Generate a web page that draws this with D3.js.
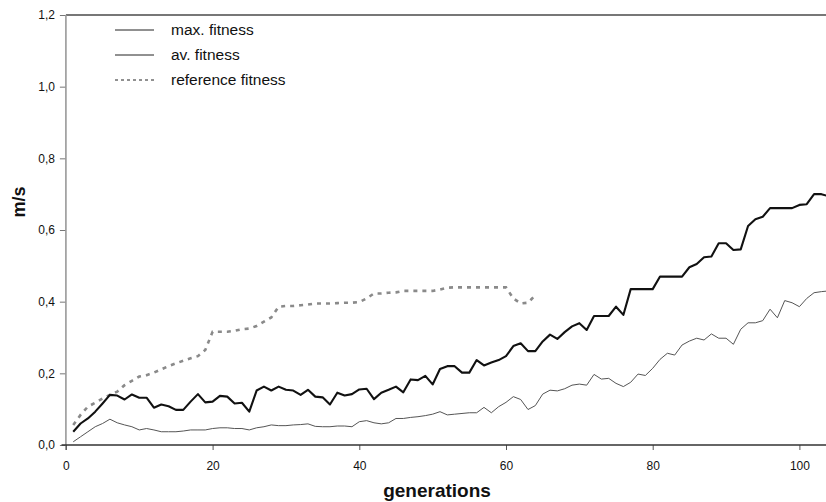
<!DOCTYPE html>
<html>
<head>
<meta charset="utf-8">
<script src="https://cdn.jsdelivr.net/npm/d3@7/dist/d3.min.js"></script>
<style>
  html, body { margin: 0; padding: 0; background: #fff; }
  svg { display: block; font-family: Arial, "Liberation Sans", sans-serif; }
</style>
</head>
<body>
<svg id="chart" width="826" height="502"></svg>
<script>
// ---- data ----
const generations = d3.range(1, 105);
const maxFitness = [
  0.037,0.060,0.074,0.093,0.116,0.140,0.138,0.127,0.141,0.132,
  0.132,0.104,0.113,0.108,0.098,0.098,0.121,0.142,0.119,0.121,
  0.137,0.135,0.116,0.118,0.093,0.152,0.163,0.152,0.163,0.154,
  0.152,0.140,0.154,0.135,0.133,0.113,0.146,0.138,0.142,0.155,
  0.157,0.128,0.146,0.154,0.163,0.147,0.183,0.181,0.193,0.169,
  0.212,0.220,0.220,0.202,0.202,0.237,0.222,0.230,0.237,0.248,
  0.276,0.284,0.262,0.262,0.289,0.308,0.296,0.315,0.331,0.340,
  0.321,0.360,0.360,0.360,0.386,0.363,0.435,0.435,0.435,0.435,
  0.470,0.470,0.470,0.470,0.496,0.505,0.524,0.526,0.563,0.563,
  0.544,0.546,0.611,0.630,0.637,0.661,0.661,0.661,0.661,0.670,
  0.672,0.700,0.700,0.694
];
const avFitness = [
  0.009,0.023,0.037,0.051,0.060,0.072,0.062,0.056,0.051,0.042,
  0.046,0.042,0.037,0.037,0.037,0.039,0.042,0.042,0.042,0.046,
  0.048,0.048,0.046,0.046,0.042,0.048,0.051,0.056,0.054,0.054,
  0.056,0.057,0.059,0.052,0.051,0.051,0.053,0.053,0.051,0.065,
  0.068,0.062,0.059,0.062,0.074,0.074,0.077,0.079,0.082,0.086,
  0.093,0.084,0.086,0.088,0.090,0.090,0.105,0.090,0.107,0.119,
  0.135,0.127,0.099,0.110,0.142,0.153,0.151,0.157,0.167,0.170,
  0.167,0.197,0.184,0.186,0.172,0.163,0.175,0.198,0.194,0.214,
  0.239,0.256,0.251,0.279,0.290,0.298,0.293,0.310,0.298,0.298,
  0.281,0.323,0.341,0.341,0.347,0.379,0.355,0.403,0.397,0.386,
  0.409,0.425,0.428,0.430
];
const refGenerations = d3.range(1, 65);
const refFitness = [
  0.056,0.084,0.107,0.118,0.130,0.140,0.149,0.167,0.179,0.191,
  0.195,0.202,0.211,0.220,0.228,0.235,0.242,0.248,0.265,0.316,
  0.316,0.316,0.319,0.323,0.325,0.332,0.344,0.356,0.386,0.388,
  0.388,0.390,0.392,0.395,0.395,0.395,0.396,0.397,0.397,0.399,
  0.409,0.423,0.423,0.425,0.426,0.430,0.430,0.430,0.430,0.430,
  0.434,0.439,0.440,0.440,0.440,0.440,0.440,0.440,0.440,0.440,
  0.409,0.395,0.397,0.418
];
const xTicks = [0, 20, 40, 60, 80, 100];
const yTicks = [0, 0.2, 0.4, 0.6, 0.8, 1.0, 1.2];
const yTickLabels = ["0,0", "0,2", "0,4", "0,6", "0,8", "1,0", "1,2"];
const legendLabels = ["max. fitness", "av. fitness", "reference fitness"];

// ---- layout ----
const svg = d3.select("#chart");
const x = d3.scaleLinear().domain([0, 104]).range([65.9, 65.9 + 7.335 * 104]);
const y = d3.scaleLinear().domain([0, 1.2]).range([445, 15]);

// top frame line
svg.append("line")
  .attr("x1", x(0)).attr("x2", 826)
  .attr("y1", y(1.2)).attr("y2", y(1.2))
  .attr("stroke", "#4a4a4a").attr("stroke-width", 1.5);

// y axis
const yAxis = svg.append("g").attr("transform", `translate(${x(0)},0)`)
  .call(d3.axisLeft(y).tickValues(yTicks).tickSize(6).tickPadding(5)
    .tickFormat((d, i) => yTickLabels[i]));
yAxis.select(".domain").remove();
yAxis.selectAll(".tick line").attr("stroke", "#777");
yAxis.selectAll("text").attr("font-size", 12).attr("fill", "#111")
  .attr("font-family", "Arial, 'Liberation Sans', sans-serif");
svg.append("line")
  .attr("x1", x(0)).attr("x2", x(0))
  .attr("y1", y(1.2)).attr("y2", 450)
  .attr("stroke", "#999").attr("stroke-width", 1.6);

// x axis
const xAxis = svg.append("g").attr("transform", `translate(0,${y(0)})`)
  .call(d3.axisBottom(x).tickValues(xTicks).tickSize(5).tickPadding(11)
    .tickFormat(d3.format("d")));
xAxis.select(".domain").remove();
xAxis.selectAll(".tick line").attr("stroke", "#555");
xAxis.selectAll("text").attr("font-size", 12).attr("fill", "#111")
  .attr("font-family", "Arial, 'Liberation Sans', sans-serif");
svg.append("line")
  .attr("x1", 61.5).attr("x2", 826)
  .attr("y1", y(0)).attr("y2", y(0))
  .attr("stroke", "#333").attr("stroke-width", 1.3);

// axis titles
svg.append("text")
  .attr("x", 437).attr("y", 497)
  .attr("text-anchor", "middle")
  .attr("font-size", 19).attr("font-weight", "bold").attr("fill", "#111")
  .text("generations");
svg.append("text")
  .attr("transform", "translate(25,202) rotate(-90)")
  .attr("text-anchor", "middle")
  .attr("font-size", 18).attr("font-weight", "bold").attr("fill", "#111")
  .text("m/s");

// lines
const lineGen = (xs, ys) => d3.line()
  .x((d, i) => x(xs[i]))
  .y(d => y(d))(ys);

svg.append("path")
  .attr("d", lineGen(refGenerations, refFitness))
  .attr("fill", "none").attr("stroke", "#8a8a8a")
  .attr("stroke-width", 2.6).attr("stroke-dasharray", "4,5");

svg.append("path")
  .attr("d", lineGen(generations, avFitness))
  .attr("fill", "none").attr("stroke", "#555")
  .attr("stroke-width", 1);

svg.append("path")
  .attr("d", lineGen(generations, maxFitness))
  .attr("fill", "none").attr("stroke", "#111")
  .attr("stroke-width", 2.1).attr("stroke-linejoin", "round");

// legend
const legend = svg.append("g");
legendLabels.forEach((lab, i) => {
  const ly = 30 + i * 25;
  legend.append("line")
    .attr("x1", 115).attr("x2", 154).attr("y1", ly).attr("y2", ly)
    .attr("stroke", "#222").attr("stroke-width", 1)
    .attr("stroke-dasharray", i === 2 ? "3,3" : null);
  legend.append("text")
    .attr("x", 171).attr("y", ly).attr("dy", "0.35em")
    .attr("font-size", 15.5).attr("fill", "#111")
    .text(lab);
});
</script>
</body>
</html>
